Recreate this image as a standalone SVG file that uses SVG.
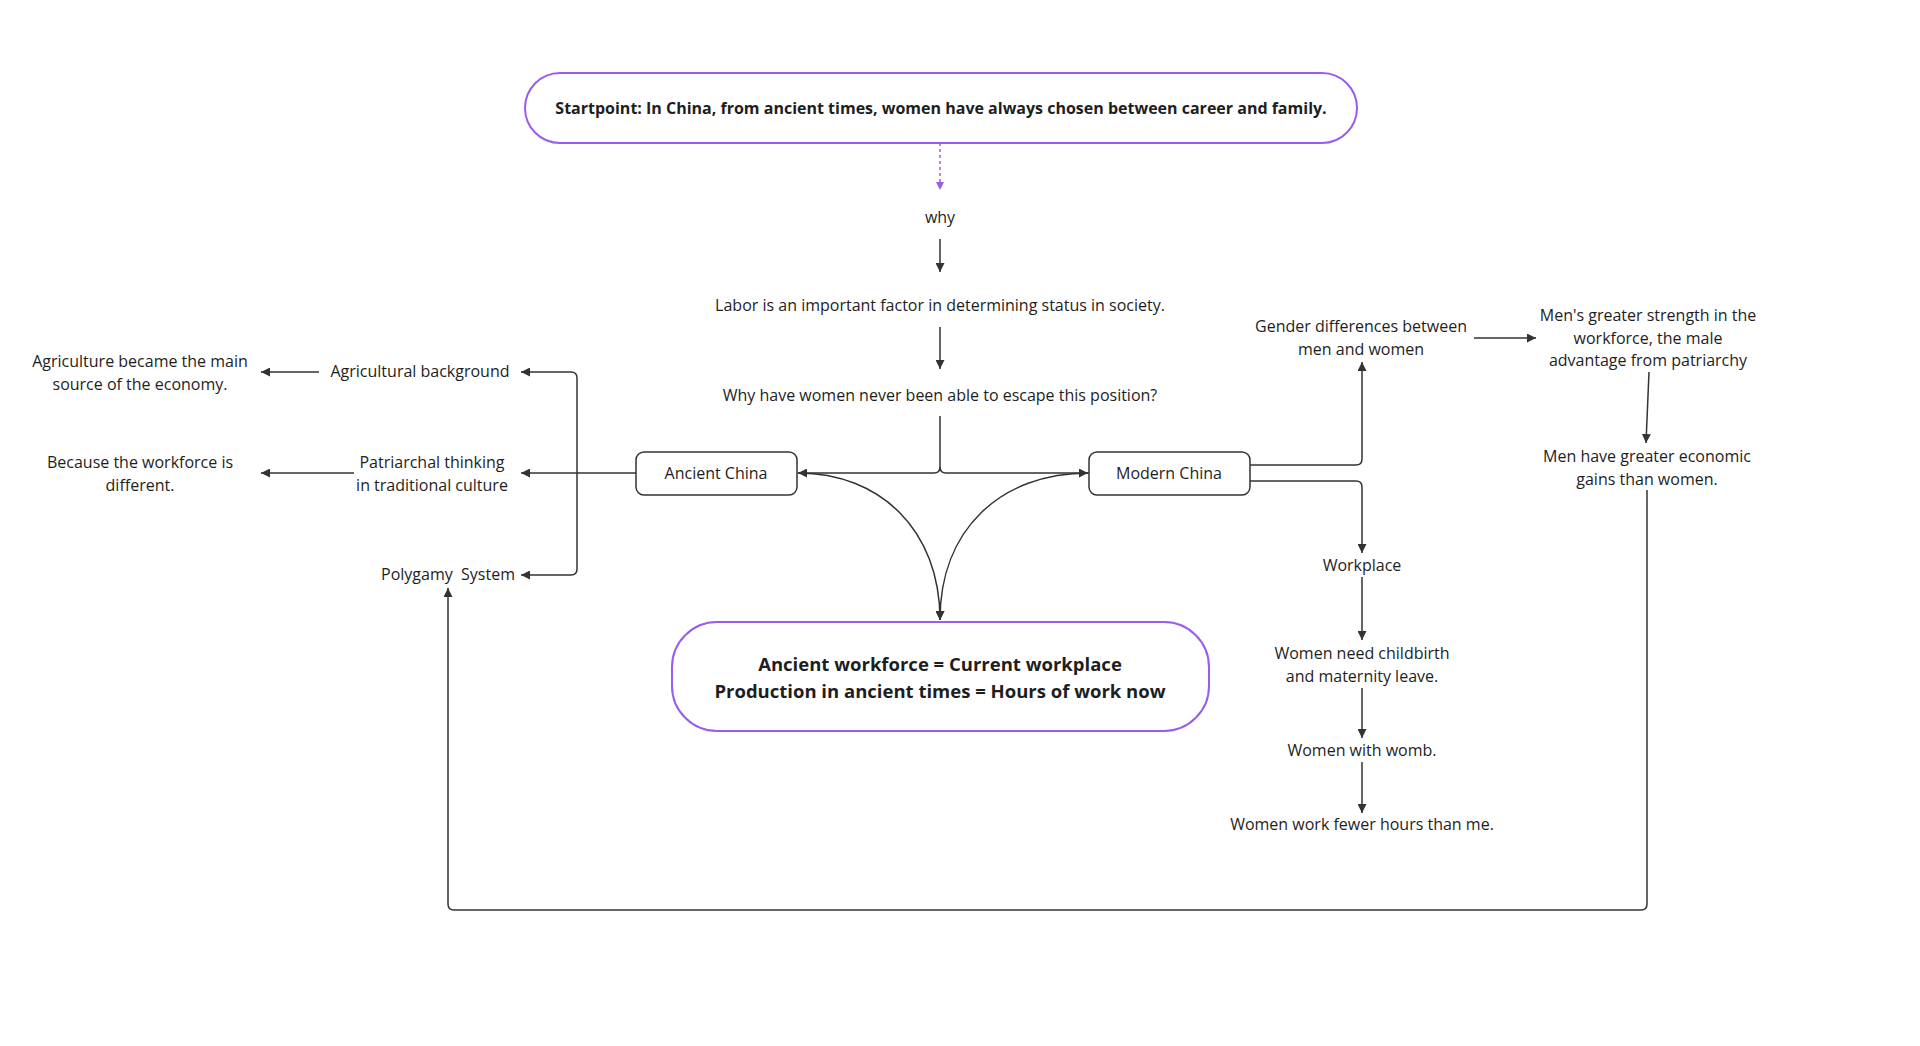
<svg xmlns="http://www.w3.org/2000/svg" width="1920" height="1046" viewBox="0 0 1920 1046">
<defs>
<marker id="ah" viewBox="0 0 10 10" refX="10" refY="5" markerWidth="9" markerHeight="9" markerUnits="userSpaceOnUse" orient="auto"><path d="M0 0 L10 5 L0 10 z" fill="#333"/></marker>
<marker id="ahp" viewBox="0 0 10 10" refX="10" refY="5" markerWidth="8" markerHeight="8" markerUnits="userSpaceOnUse" orient="auto"><path d="M0 0 L10 5 L0 10 z" fill="#9a5cf0"/></marker>
</defs>
<style>
text{font-family:"Open Sans","Noto Sans","DejaVu Sans",sans-serif;fill:#1e1e1e;font-size:16px;text-anchor:middle}
.b{font-weight:bold}
.big{font-size:18.5px}
.c{fill:none;stroke:#333;stroke-width:1.5;marker-end:url(#ah)}
.n{fill:none;stroke:#333;stroke-width:1.5}
.box{fill:#fff;stroke:#333;stroke-width:1.5}
.pbox{fill:#fff;stroke:#9a5cf0;stroke-width:2}
</style>
<rect width="1920" height="1046" fill="#fff"/>
<g id="connectors">
<path d="M940 143 V190" fill="none" stroke="#9a5cf0" stroke-width="1.5" stroke-dasharray="3 3" marker-end="url(#ahp)"/>
<path class="c" d="M940 239 V272"/>
<path class="c" d="M940 327 V369"/>
<path class="c" d="M940 416 V467 Q940 473 934 473 H798"/>
<path class="c" d="M940 467 Q940 473 946 473 H1088"/>
<path class="c" d="M798 473 C880 473 940 530 940 620"/>
<path class="c" d="M1089 473 C1000 473 940 530 940 620"/>
<path class="n" d="M636 473 H577"/>
<path class="c" d="M577 473 V378 Q577 372 571 372 H521"/>
<path class="c" d="M577 473 V569 Q577 575 571 575 H521"/>
<path class="c" d="M577 473 H521"/>
<path class="c" d="M319 372 H261"/>
<path class="c" d="M354 473 H261"/>
<path class="c" d="M1250 465 H1356 Q1362 465 1362 459 V362"/>
<path class="c" d="M1250 481 H1356 Q1362 481 1362 487 V553"/>
<path class="c" d="M1474 338 H1536"/>
<path class="c" d="M1649 372 L1646 443"/>
<path class="c" d="M1647 490 V904 Q1647 910 1641 910 H454 Q448 910 448 904 V588"/>
<path class="c" d="M1362 577 V640"/>
<path class="c" d="M1362 688 V738"/>
<path class="c" d="M1362 762 V813"/>
</g>
<g id="start"><rect class="pbox" x="525" y="73" width="832" height="70" rx="35"/><text class="b" x="941" y="114">Startpoint: In China, from ancient times, women have always chosen between career and family.</text></g>
<g id="why"><text x="940" y="223">why</text></g>
<g id="labor"><text x="940" y="311">Labor is an important factor in determining status in society.</text></g>
<g id="whyhave"><text x="940" y="401">Why have women never been able to escape this position?</text></g>
<g id="ancient"><rect class="box" x="636" y="452" width="161" height="43" rx="8"/><text x="716" y="479">Ancient China</text></g>
<g id="modern"><rect class="box" x="1089" y="452" width="161" height="43" rx="8"/><text x="1169" y="479">Modern China</text></g>
<g id="result"><rect class="pbox" x="672" y="622" width="537" height="109" rx="45"/><text class="b big" x="940" y="671">Ancient workforce = Current workplace</text><text class="b big" x="940" y="698">Production in ancient times = Hours of work now</text></g>
<g id="agri"><text x="420" y="377">Agricultural background</text></g>
<g id="agri2"><text x="140" y="367">Agriculture became the main</text><text x="140" y="390">source of the economy.</text></g>
<g id="patri"><text x="432" y="468">Patriarchal thinking</text><text x="432" y="491">in traditional culture</text></g>
<g id="because"><text x="140" y="468">Because the workforce is</text><text x="140" y="491">different.</text></g>
<g id="poly"><text x="448" y="580" xml:space="preserve">Polygamy  System</text></g>
<g id="gender"><text x="1361" y="332">Gender differences between</text><text x="1361" y="355">men and women</text></g>
<g id="strength"><text x="1648" y="321">Men's greater strength in the</text><text x="1648" y="344">workforce, the male</text><text x="1648" y="366">advantage from patriarchy</text></g>
<g id="gains"><text x="1647" y="462">Men have greater economic</text><text x="1647" y="485">gains than women.</text></g>
<g id="workplace"><text x="1362" y="571">Workplace</text></g>
<g id="childbirth"><text x="1362" y="659">Women need childbirth</text><text x="1362" y="682">and maternity leave.</text></g>
<g id="womb"><text x="1362" y="756">Women with womb.</text></g>
<g id="fewer"><text x="1362" y="830">Women work fewer hours than me.</text></g>
</svg>
